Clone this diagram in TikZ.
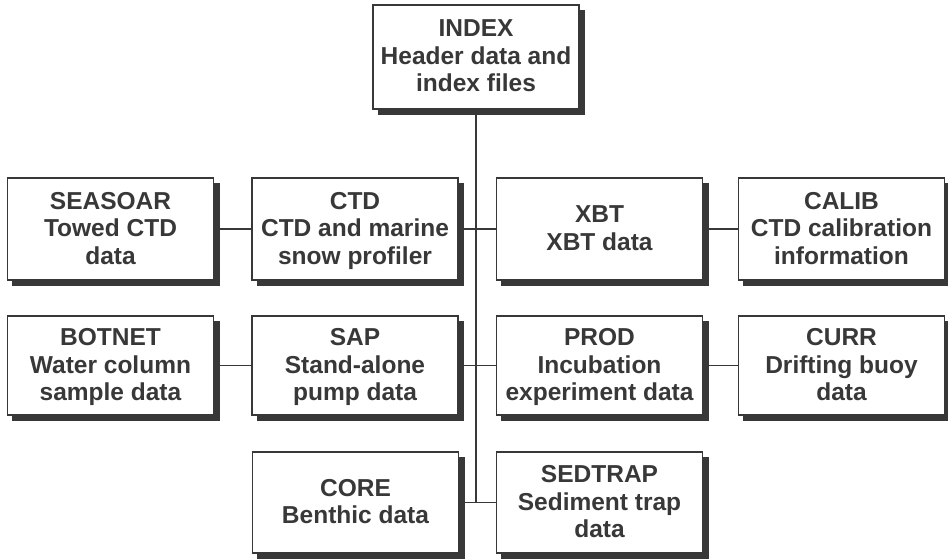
\documentclass[tikz,border=0pt]{standalone}
\usepackage{fontspec}
\setmainfont{Liberation Sans}
\usetikzlibrary{backgrounds,calc}
\definecolor{ink}{HTML}{383838}
\begin{document}
\begin{tikzpicture}[x=1pt,y=-1pt,
  databox/.style={draw=ink, line width=1.3pt, fill=white, minimum width=206pt,
    inner sep=0pt, align=center, text=ink, text depth=2pt,
    font=\fontsize{24.5}{27.5}\selectfont\bfseries},
  shadowfill/.style={fill=ink},
  link/.style={draw=ink, line width=1.3pt}]
\useasboundingbox (0,0) rectangle (948,559);
\node[databox, minimum height=104pt] (index) at (476,57) {INDEX\\Header data and\\index files};
\node[databox, minimum height=102pt] (seasoar) at (110.5,229) {SEASOAR\\Towed CTD\\data};
\node[databox, minimum height=102pt] (ctd) at (355,229) {CTD\\CTD and marine\\snow profiler};
\node[databox, minimum height=102pt] (xbt) at (599.5,229) {XBT\\XBT data};
\node[databox, minimum height=102pt] (calib) at (841.5,229) {CALIB\\CTD calibration\\information};
\node[databox, minimum height=99pt] (botnet) at (110.5,365.5) {BOTNET\\Water column\\sample data};
\node[databox, minimum height=99pt] (sap) at (355,365.5) {SAP\\Stand-alone\\pump data};
\node[databox, minimum height=99pt] (prod) at (599.5,365.5) {PROD\\Incubation\\experiment data};
\node[databox, minimum height=99pt] (curr) at (841.5,365.5) {CURR\\Drifting buoy\\data};
\node[databox, minimum height=101pt] (core) at (355.5,502.5) {CORE\\Benthic data};
\node[databox, minimum height=101pt] (sedtrap) at (599.5,502.5) {SEDTRAP\\Sediment trap\\data};
\coordinate (trunkend) at (476,502.5);
\begin{scope}[on background layer]
\fill[white] (0,0) rectangle (948,559);
\foreach \n in {index,seasoar,ctd,xbt,calib,botnet,sap,prod,curr,core,sedtrap}{
  \path[shadowfill] ($(\n.north west)+(5.5,5.5)$) rectangle ($(\n.south east)+(5.5,5.5)$);
}
\path[link] (index.south) -- (trunkend);
\path[link] (seasoar.east) -- (ctd.west);
\path[link] (ctd.east) -- (xbt.west);
\path[link] (xbt.east) -- (calib.west);
\path[link] (botnet.east) -- (sap.west);
\path[link] (sap.east) -- (prod.west);
\path[link] (prod.east) -- (curr.west);
\path[link] (core.east) -- (sedtrap.west);
\end{scope}
\end{tikzpicture}
\end{document}
